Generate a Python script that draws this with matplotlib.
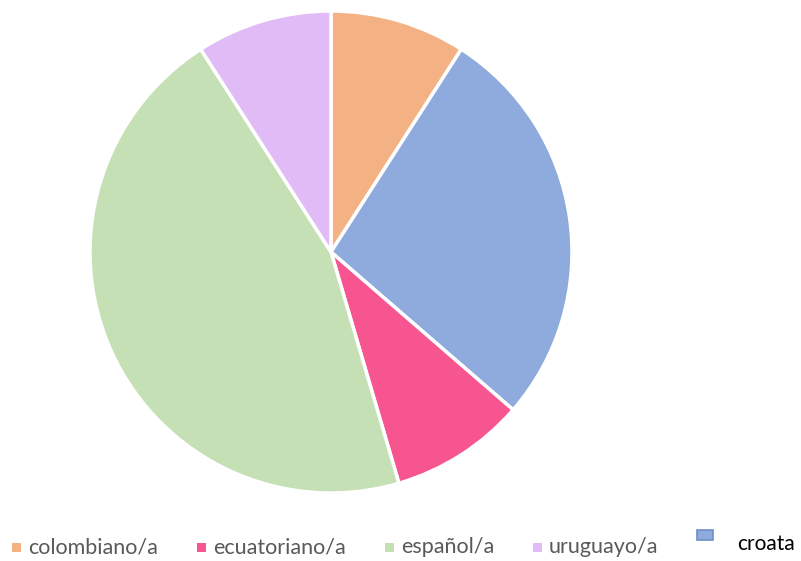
import matplotlib
matplotlib.use("Agg")
import matplotlib.pyplot as plt
from matplotlib.patches import Rectangle

labels = ["colombiano/a", "croata", "ecuatoriano/a", "español/a", "uruguayo/a"]
values = [1, 3, 1, 5, 1]
colors = ["#F4B183", "#8FAADC", "#F75590", "#C5E0B4", "#E0BBF5"]

legend_order = ["colombiano/a", "ecuatoriano/a", "español/a", "uruguayo/a"]

W, H = 801, 561
fig = plt.figure(figsize=(W / 100, H / 100), dpi=100)
ax = fig.add_axes([0, 0, 1, 1])
ax.set_xlim(0, W)
ax.set_ylim(0, H)
ax.axis("off")

ax.pie(values, colors=colors, startangle=90, counterclock=False,
       center=(331, H - 252), radius=241, frame=True,
       wedgeprops=dict(edgecolor="white", linewidth=2.5))
ax.set_xlim(0, W)
ax.set_ylim(0, H)
ax.set_aspect("equal")
ax.axis("off")

leg_x = [12, 197, 385, 533]
ly = H - 547
for name, x in zip(legend_order, leg_x):
    c = colors[labels.index(name)]
    ax.add_patch(Rectangle((x, ly - 4.5), 9, 9, facecolor=c, edgecolor="none"))
    ax.text(x + 16, ly, name, fontsize=15.5, color="#595959", va="center", ha="left",
            family=["Lato", "DejaVu Sans"])

# croata entry
c = colors[labels.index("croata")]
ax.add_patch(Rectangle((697, H - 540), 16, 10, facecolor=c, edgecolor="#6F8FC8", linewidth=1.2))
ax.text(737, H - 544, "croata", fontsize=15, color="black", va="center", ha="left",
        family=["Lato", "DejaVu Sans"])

fig.savefig("out.png", dpi=100)
